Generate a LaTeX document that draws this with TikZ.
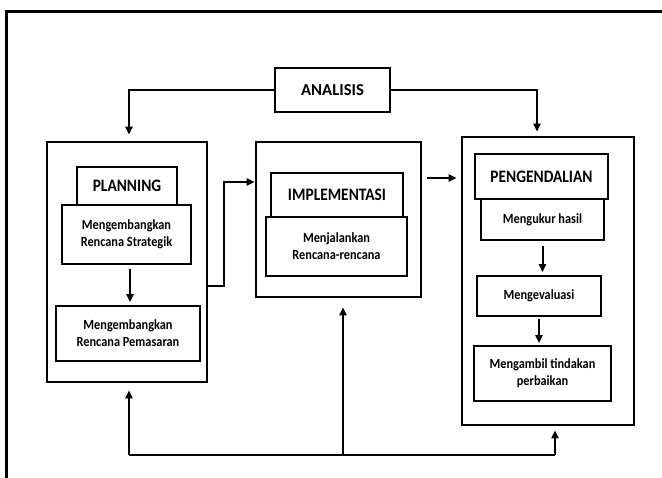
\documentclass[tikz,border=0pt]{standalone}
\usepackage{fontspec}
\setmainfont{Carlito}[FakeStretch=0.88]
\newfontfamily\plainfont{Carlito}
\usetikzlibrary{arrows.meta,calc}
\begin{document}
\begin{tikzpicture}[x=1pt,y=-1pt,
  innerbox/.style={draw,fill=white,line width=1.8pt,inner sep=0pt,align=center,font=\bfseries\fontsize{14}{17}\selectfont},
  titlebox/.style={draw,fill=white,line width=1.8pt,inner sep=0pt,font=\bfseries\fontsize{17.5}{20}\selectfont},
  outerbox/.style={draw,line width=2.6pt,inner sep=0pt},
  conn/.style={line width=2pt},
  arr/.style={line width=2pt,-{Triangle[length=8pt,width=7pt]}}
]
\useasboundingbox (0,0) rectangle (662,478);
\fill[white] (0,0) rectangle (662,478);
% frame
\draw[line width=3pt] (6,478) -- (6,12) -- (662,12);

% ANALISIS
\node[titlebox,font=\plainfont\bfseries\fontsize{16.7}{20}\selectfont,minimum width=115pt,minimum height=44pt] (analisis) at (332.5,90) {ANALISIS};

% Planning
\node[outerbox,minimum width=160pt,minimum height=240pt] (planOuter) at (127,262) {};
\node[titlebox,minimum width=100pt,minimum height=38pt] (planTitle) at (127,186) {PLANNING};
\node[innerbox,minimum width=129pt,minimum height=59pt] (strat) at (126.5,234.5) {Mengembangkan\\Rencana Strategik};
\node[innerbox,minimum width=144pt,minimum height=55pt] (pemas) at (128,333.5) {Mengembangkan\\Rencana Pemasaran};

% Implementasi
\node[outerbox,minimum width=165pt,minimum height=155pt] (implOuter) at (338.5,219.5) {};
\node[titlebox,minimum width=132pt,minimum height=44pt] (implTitle) at (337,195) {IMPLEMENTASI};
\node[innerbox,minimum width=141pt,minimum height=59pt] (menj) at (336.5,246.5) {Menjalankan\\Rencana-rencana};

% Pengendalian
\node[outerbox,minimum width=172pt,minimum height=288pt] (pengOuter) at (548,281) {};
\node[titlebox,minimum width=133pt,minimum height=45pt] (pengTitle) at (541.5,176.5) {PENGENDALIAN};
\node[innerbox,minimum width=123pt,minimum height=41pt] (ukur) at (542.5,219.5) {Mengukur hasil};
\node[innerbox,minimum width=124pt,minimum height=40pt] (eval) at (539,296) {Mengevaluasi};
\node[innerbox,minimum width=137pt,minimum height=55pt] (ambil) at (542.5,373.5) {Mengambil tindakan\\perbaikan};

% connectors from ANALISIS
\draw[arr,shorten >=6pt] (analisis.west) -| ([xshift=2pt]planOuter.north);
\draw[arr,shorten >=4pt] (analisis.east) -| ([xshift=-11pt]pengOuter.north);

% inside planning
\draw[arr,shorten <=4pt,shorten >=3pt] ([xshift=3.5pt]strat.south) -- ([xshift=2pt]pemas.north);

% planning -> implementasi
\draw[arr] ([yshift=-24pt]planOuter.east) -- ++(16,0) |- ([yshift=37.5pt]implOuter.west);

% implementasi -> pengendalian
\draw[arr,shorten <=5pt,shorten >=4pt] ([yshift=41.5pt]implOuter.east) -- ([yshift=41.5pt]implOuter.east -| pengOuter.west);

% inside pengendalian
\draw[arr,shorten <=5pt,shorten >=3pt] (ukur.south) -- (ukur.south |- eval.north);
\draw[arr,shorten <=2pt,shorten >=2pt] (eval.south) -- (eval.south |- ambil.north);

% bottom feedback
\coordinate (bl) at (129,455);
\coordinate (bm) at (343,455);
\coordinate (br) at (555,455);
\draw[conn] (bl) -- (br);
\draw[arr,shorten >=7pt] (bl) -- (bl |- planOuter.south);
\draw[arr,shorten >=9pt] (bm) -- (bm |- implOuter.south);
\draw[arr,shorten >=4pt] (br) -- (br |- pengOuter.south);
\end{tikzpicture}
\end{document}
